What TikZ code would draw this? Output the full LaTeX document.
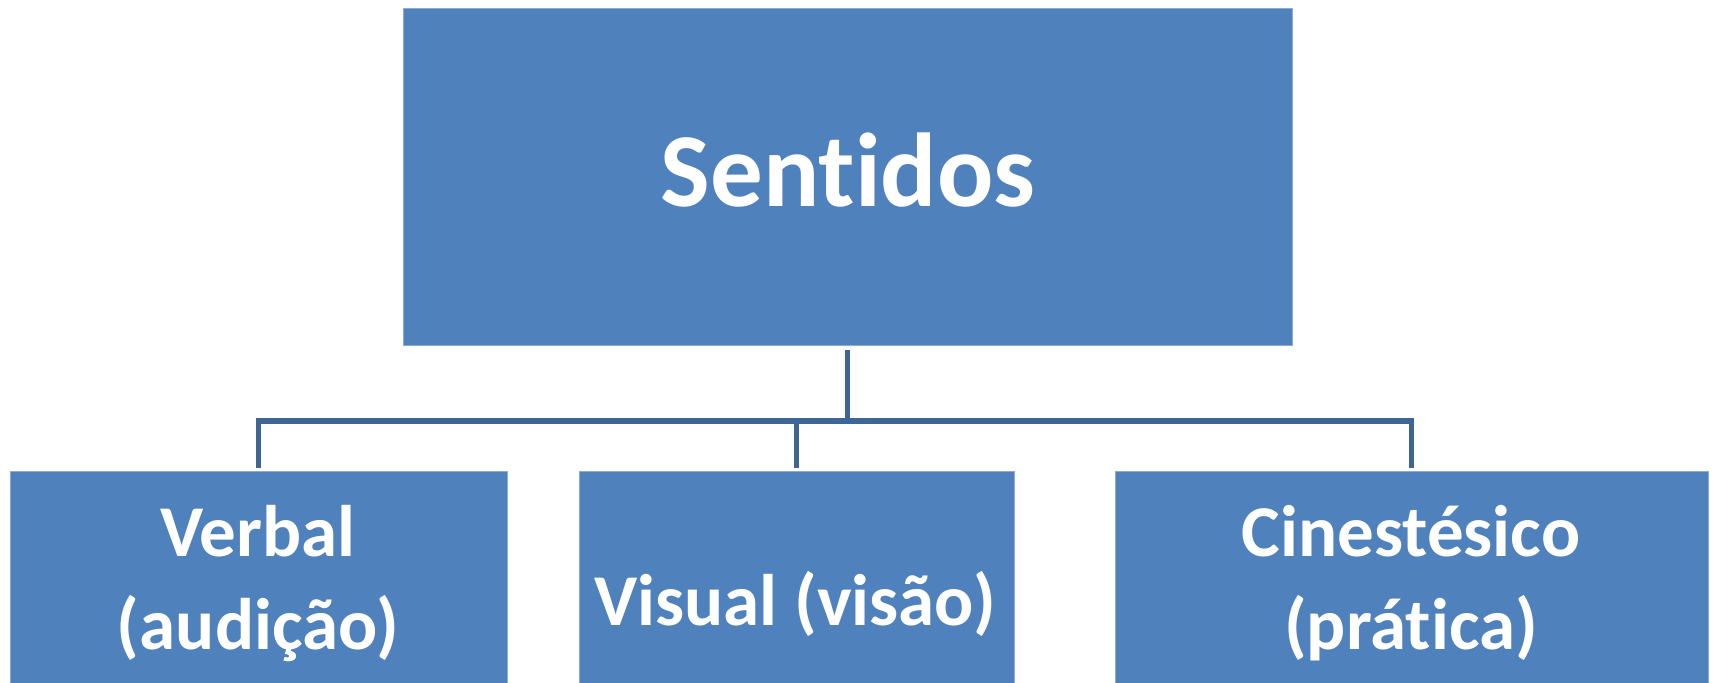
\documentclass[tikz,border=0pt]{standalone}
\usepackage{fontspec}
\setmainfont{Carlito}[Ligatures=NoCommon]
\usetikzlibrary{fit}
\definecolor{boxblue}{HTML}{4F81BD}
\definecolor{boxedge}{HTML}{8CAAD2}
\definecolor{connblue}{HTML}{3D6697}
\tikzset{
  box/.style={fill=boxblue, draw=boxedge, line width=0.5pt, inner sep=0pt},
  conn/.style={draw=connblue, line width=2.7pt, line join=miter, line cap=rect},
  bigtext/.style={text=white, font=\bfseries\fontsize{52.5}{63}\selectfont, anchor=base, inner sep=0pt},
  smalltext/.style={text=white, font=\bfseries\fontsize{36.5}{46.5}\selectfont, anchor=base, inner sep=0pt}
}
\begin{document}
\begin{tikzpicture}[x=0.5pt, y=-0.5pt]
\useasboundingbox (0,0) rectangle (1716,683);
\node[box, fit={(403,9) (1292,346)}] (top) {};
\node[box, fit={(10,471) (507,700)}] (l) {};
\node[box, fit={(579,471) (1014,700)}] (m) {};
\node[box, fit={(1115,471) (1708,700)}] (r) {};
\node[bigtext] (ttop) at (848,207) {Sentidos};
\node[smalltext] (tl1) at (258,556) {Verbal};
\node[smalltext] (tl2) at (258,649) {(audição)};
\node[smalltext] (tm) at (795,625) {Visual (visão)};
\node[smalltext] (tr1) at (1411,556) {Cinestésico};
\node[smalltext] (tr2) at (1411,649) {(prática)};
\coordinate (bus) at (0,421);
\draw[conn] ([yshift=-3pt]top.south) -- (top.south |- bus);
\draw[conn] ([yshift=2.8pt]l.north) -- (l.north |- bus) -- (r.north |- bus) -- ([yshift=2.8pt]r.north);
\draw[conn] ([yshift=2.8pt]m.north) -- (m.north |- bus);
\end{tikzpicture}
\end{document}
